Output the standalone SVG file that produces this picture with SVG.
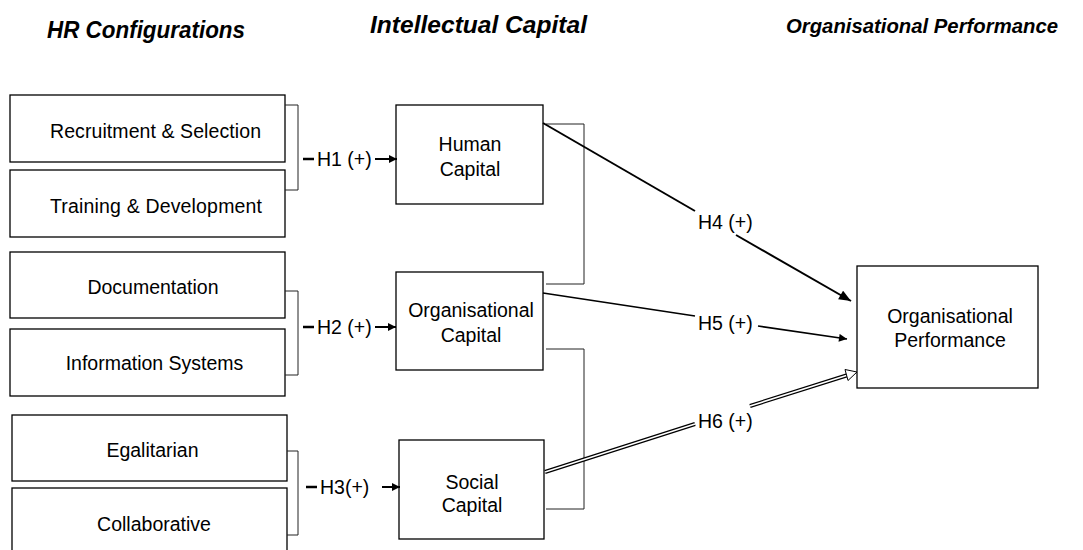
<svg xmlns="http://www.w3.org/2000/svg" width="1083" height="550" viewBox="0 0 1083 550">
<style>
.box{fill:#fff;stroke:#000;stroke-width:1.3}
.t{font-family:"Liberation Sans",Arial,sans-serif;font-size:19.5px;fill:#000}
.m{text-anchor:middle}
.h{font-family:"Liberation Sans",Arial,sans-serif;font-size:23px;font-weight:bold;font-style:italic;fill:#000}
.br{fill:none;stroke:#222;stroke-width:1}
.ln{fill:none;stroke:#000}
</style>
<defs>
<marker id="ah" viewBox="0 0 10 10" refX="10" refY="5" markerWidth="10" markerHeight="8" markerUnits="userSpaceOnUse" orient="auto">
<path d="M0,0 L10,5 L0,10 Z" fill="#000"/>
</marker>
<marker id="ah2" viewBox="0 0 12 10" refX="12" refY="5" markerWidth="13" markerHeight="10" markerUnits="userSpaceOnUse" orient="auto">
<path d="M0,0 L12,5 L0,10 Z" fill="#000"/>
</marker>
</defs>
<rect width="1083" height="550" fill="#fff"/>

<g id="headers">
<text class="h" x="47" y="38" textLength="198" lengthAdjust="spacingAndGlyphs">HR Configurations</text>
<text class="h" x="370" y="33" textLength="217" lengthAdjust="spacingAndGlyphs">Intellectual Capital</text>
<text class="h" x="786" y="33" textLength="272" lengthAdjust="spacingAndGlyphs" style="font-size:21px">Organisational Performance</text>
</g>

<g id="recruitment">
<rect class="box" x="10" y="95" width="275" height="67"/>
<text class="t" x="50" y="138" textLength="211">Recruitment &amp; Selection</text>
</g>
<g id="training">
<rect class="box" x="10" y="170" width="275" height="67"/>
<text class="t" x="50" y="213" textLength="212">Training &amp; Development</text>
</g>
<g id="documentation">
<rect class="box" x="10" y="252" width="275" height="66"/>
<text class="t m" x="153" y="294">Documentation</text>
</g>
<g id="information-systems">
<rect class="box" x="10" y="329" width="275" height="67"/>
<text class="t m" x="154.5" y="370">Information Systems</text>
</g>
<g id="egalitarian">
<rect class="box" x="12" y="415" width="275" height="66"/>
<text class="t m" x="152.5" y="457">Egalitarian</text>
</g>
<g id="collaborative">
<rect class="box" x="12" y="488" width="275" height="70"/>
<text class="t m" x="154" y="531">Collaborative</text>
</g>

<g id="human-capital">
<rect class="box" x="396" y="105" width="147" height="99"/>
<text class="t m" x="470" y="151">Human</text>
<text class="t m" x="470" y="176">Capital</text>
</g>
<g id="organisational-capital">
<rect class="box" x="396" y="272" width="147" height="98"/>
<text class="t m" x="471" y="317">Organisational</text>
<text class="t m" x="471" y="342">Capital</text>
</g>
<g id="social-capital">
<rect class="box" x="399" y="440" width="145" height="99"/>
<text class="t m" x="472" y="489">Social</text>
<text class="t m" x="472" y="512">Capital</text>
</g>
<g id="organisational-performance">
<rect class="box" x="857" y="266" width="181" height="122"/>
<text class="t m" x="950" y="323">Organisational</text>
<text class="t m" x="950" y="347">Performance</text>
</g>

<g id="connectors">
<path class="br" d="M285,105 H298 V190 H285"/>
<path class="br" d="M285,291 H298 V375 H285"/>
<path class="br" d="M287,451 H298 V535 H287"/>
<path class="br" d="M546,124 H584 V284 H546"/>
<path class="br" d="M546,349 H584 V509 H546"/>

<line class="ln" x1="303" y1="159" x2="314" y2="159" stroke-width="2.5"/>
<line class="ln" x1="375" y1="159" x2="397" y2="159" stroke-width="2" marker-end="url(#ah)"/>
<text class="t" x="317" y="166">H1 (+)</text>

<line class="ln" x1="303" y1="327" x2="314" y2="327" stroke-width="2.5"/>
<line class="ln" x1="375" y1="327" x2="396" y2="327" stroke-width="2" marker-end="url(#ah)"/>
<text class="t" x="317" y="334">H2 (+)</text>

<line class="ln" x1="306" y1="487" x2="317" y2="487" stroke-width="2.5"/>
<line class="ln" x1="382" y1="487" x2="400" y2="487" stroke-width="2" marker-end="url(#ah)"/>
<text class="t" x="320" y="494">H3(+)</text>

<line class="ln" x1="543" y1="123" x2="695" y2="211" stroke-width="2"/>
<line class="ln" x1="736" y1="235" x2="851" y2="301" stroke-width="2" marker-end="url(#ah2)"/>
<text class="t" x="698" y="229">H4 (+)</text>

<line class="ln" x1="543" y1="293" x2="695" y2="316" stroke-width="1.6"/>
<line class="ln" x1="758" y1="326" x2="847" y2="339" stroke-width="1.6" marker-end="url(#ah)"/>
<text class="t" x="698" y="330">H5 (+)</text>

<g>
<line class="ln" x1="545" y1="472" x2="695" y2="424" stroke-width="4"/>
<line x1="545" y1="472" x2="695" y2="424" stroke="#fff" stroke-width="1.6"/>
<line class="ln" x1="750" y1="406" x2="848" y2="375" stroke-width="4"/>
<line x1="750" y1="406" x2="848" y2="375" stroke="#fff" stroke-width="1.6"/>
<path d="M845,369.5 L857,372 L848,380.5 Z" fill="#fff" stroke="#000" stroke-width="1"/>
</g>
<text class="t" x="698" y="428">H6 (+)</text>
</g>
</svg>
